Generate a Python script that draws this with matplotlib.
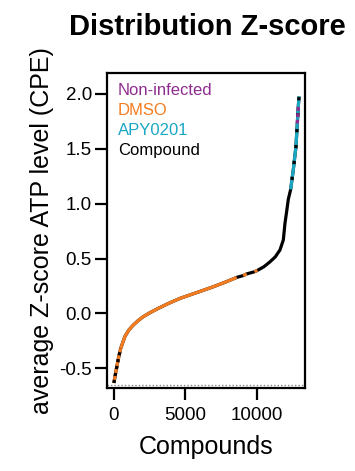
import numpy as np
import matplotlib

matplotlib.use("Agg")
import matplotlib.pyplot as plt

# ----------------- DATA -----------------
rank = np.array([0, 150, 300, 470, 770, 1050, 1350, 1700, 2050, 2500, 3100, 3800,
                 4625, 5800, 6960, 7800, 8600, 9050, 9300, 9850, 10050, 10500, 10930,
                 11300, 11630, 11865, 11980, 12100, 12215, 12380, 12565, 12750, 12845,
                 12915, 12965])
zscore = np.array([-0.633, -0.52, -0.42, -0.32, -0.21, -0.15, -0.107, -0.065, -0.03,
                   0.005, 0.046, 0.09, 0.137, 0.19, 0.243, 0.285, 0.328, 0.345, 0.36,
                   0.38, 0.392, 0.425, 0.47, 0.515, 0.578, 0.669, 0.82, 0.93, 1.04,
                   1.13, 1.31, 1.52, 1.73, 1.885, 1.976])
baseline = -0.655  # dotted reference line

dmso_ranges = [(0, 470), (470, 8600), (9050, 9300), (9850, 10050)]
dmso_mixed = (0, 470)     # compound dashes on top of DMSO
apy_range = (12380, 12965)
noninf_range = (12845, 12915)

labels = ["Non-infected", "DMSO", "APY0201", "Compound"]
colors = {"Non-infected": "#8e2d8e", "DMSO": "#f47c20",
          "APY0201": "#1aa7c4", "Compound": "#000000"}
# ------------------------------------------------------------------

plt.rcParams["font.family"] = ["Liberation Sans", "DejaVu Sans"]

fig = plt.figure(figsize=(3.55, 4.71), dpi=100)
ax = fig.add_axes([0.302, 0.176, 0.557, 0.669])

lw = 2.3


def seg(lo, hi):
    m = (rank >= lo) & (rank <= hi)
    return rank[m], zscore[m]


ax.axhline(baseline, color="#888888", linewidth=1.0, linestyle=(0, (1, 1.5)), zorder=1)

# compounds: full curve
ax.plot(rank, zscore, color=colors["Compound"], linewidth=lw, solid_capstyle="butt", zorder=2)

# DMSO
for lo, hi in dmso_ranges:
    x, y = seg(lo, hi)
    ax.plot(x, y, color=colors["DMSO"], linewidth=lw, solid_capstyle="butt", zorder=3)
x, y = seg(*dmso_mixed)
ax.plot(x, y, color=colors["Compound"], linewidth=lw, linestyle=(0, (1, 1.2)),
        solid_capstyle="butt", zorder=4)

# APY0201 with compound dashes
x, y = seg(*apy_range)
ax.plot(x, y, color=colors["APY0201"], linewidth=lw, solid_capstyle="butt", zorder=3)
ax.plot(x, y, color=colors["Compound"], linewidth=lw, linestyle=(2, (1, 4)),
        solid_capstyle="butt", zorder=4)
# non-infected near the very top
x, y = seg(*noninf_range)
ax.plot(x, y, color=colors["Non-infected"], linewidth=lw, linestyle=(0, (1.2, 0.8)),
        solid_capstyle="butt", zorder=5)

ax.set_xlim(-470, 13380)
ax.set_ylim(-0.68, 2.19)
ax.set_xticks([0, 5000, 10000])
ax.set_yticks([-0.5, 0.0, 0.5, 1.0, 1.5, 2.0])
ax.set_yticklabels(["-0.5", "0.0", "0.5", "1.0", "1.5", "2.0"])

for s in ax.spines.values():
    s.set_linewidth(1.6)
ax.tick_params(axis="both", width=1.6, length=8.5, labelsize=13.5)
ax.tick_params(axis="y", pad=2.5)
ax.tick_params(axis="x", pad=5)

ax.set_xlabel("Compounds", fontsize=18, labelpad=8)
ax.set_ylabel("average Z-score ATP level (CPE)", fontsize=18, labelpad=4)

for i, lab in enumerate(labels):
    ax.text(0.054, 0.943 - i * 0.0635, lab, color=colors[lab], fontsize=12,
            transform=ax.transAxes, va="center", ha="left")

fig.text(0.583, 0.943, "Distribution Z-score", fontsize=21, fontweight="bold",
         ha="center", va="center")

fig.savefig("out.png", dpi=100)
